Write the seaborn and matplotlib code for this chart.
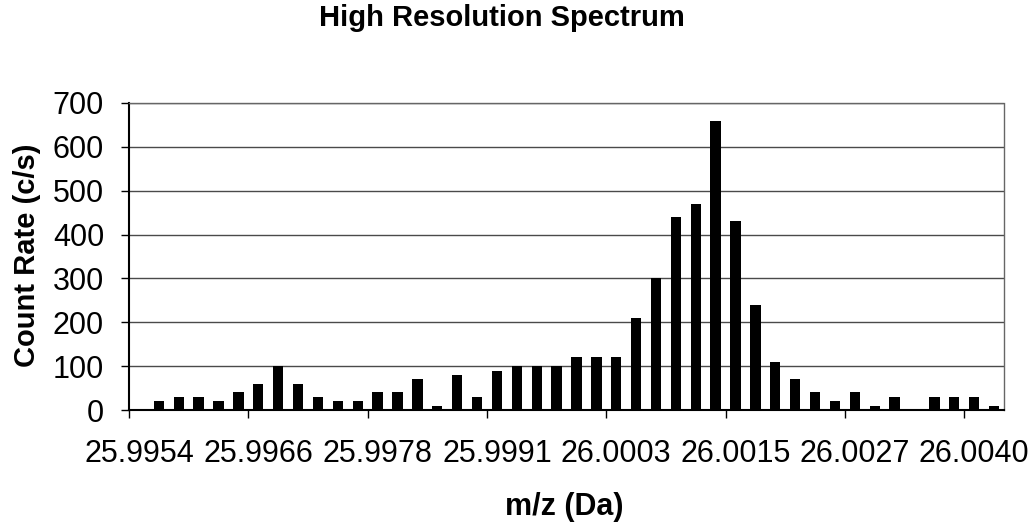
import matplotlib
matplotlib.use("Agg")
import matplotlib.pyplot as plt
import seaborn as sns
import numpy as np

# ---- data ----
categories = list(range(44))  # category slots along m/z axis
counts = [0, 20, 30, 30, 20, 40, 60, 100, 60, 30, 20, 20, 40, 40, 70, 10,
          80, 30, 90, 100, 100, 100, 120, 120, 120, 210, 300, 440, 470, 660,
          430, 240, 110, 70, 40, 20, 40, 10, 30, 0, 30, 30, 30, 10]
mz_labels = ["25.9954", "25.9966", "25.9978", "25.9991",
             "26.0003", "26.0015", "26.0027", "26.0040"]
label_every = 6
y_ticks = [0, 100, 200, 300, 400, 500, 600, 700]

sns.set_theme(style="white")
plt.rcParams['font.family'] = ['Liberation Sans', 'DejaVu Sans']

fig = plt.figure(figsize=(10.31, 5.26), dpi=100)
ax = fig.add_axes([129/1031, 1-410/526, (1004-129)/1031, (410-103)/526])

sns.barplot(x=categories, y=counts, color="black", saturation=1,
            width=0.52, linewidth=0, ax=ax, zorder=3)

ax.set_xlim(-0.5, len(categories) - 0.5)
ax.set_ylim(0, 700)
ax.set_yticks(y_ticks)
ax.set_yticklabels([str(v) for v in y_ticks])
ax.yaxis.grid(True, color="#4a4a4a", linewidth=1.0, zorder=0)
ax.xaxis.grid(False)

# x ticks: marks at group boundaries, labels centered on every 6th category
bounds = [-0.5 + label_every * k for k in range(len(mz_labels))]
label_pos = [label_every * k for k in range(len(mz_labels))]
ax.set_xticks(bounds)
ax.set_xticklabels([""] * len(bounds))
ax.set_xticks(label_pos, minor=True)
ax.set_xticklabels(mz_labels, minor=True)
ax.tick_params(axis="x", which="major", direction="out", length=6,
               width=1, color="black", bottom=True)
ax.tick_params(axis="x", which="minor", length=0, pad=21,
               labelsize=22, labelcolor="black", bottom=True)
ax.tick_params(axis="y", which="major", direction="out", length=6,
               width=1, color="black", left=True, pad=12,
               labelsize=22, labelcolor="black")

for side in ["left", "bottom"]:
    ax.spines[side].set_color("black")
    ax.spines[side].set_linewidth(1.5)
for side in ["top", "right"]:
    ax.spines[side].set_color("#666666")
    ax.spines[side].set_linewidth(1.0)
    ax.spines[side].set_linestyle((0, (1, 1)))

ax.set_xlabel("")
ax.set_ylabel("")

fig.text(502/1031, 1-18/526, "High Resolution Spectrum", ha="center",
         va="center", fontsize=21, fontweight="bold", color="black")
fig.text(27/1031, 1-255/526, "Count Rate (c/s)", ha="center", va="center",
         rotation=90, fontsize=21, fontweight="bold", color="black")
fig.text(564/1031, 1-507/526, "m/z (Da)", ha="center", va="center",
         fontsize=22, fontweight="bold", color="black")

fig.savefig("out.png", dpi=100, facecolor="white")
